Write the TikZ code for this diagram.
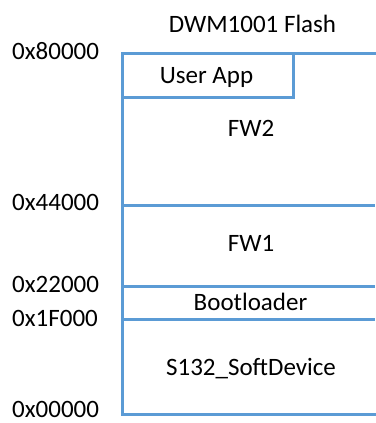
\documentclass[tikz,border=0pt]{standalone}
\usepackage{fontspec}
\setmainfont{Carlito}
\definecolor{mapblue}{HTML}{5B9BD5}
\tikzset{
  mapline/.style={draw=mapblue, line width=3pt},
  addr/.style={anchor=base west, inner sep=0pt, font=\fontsize{25}{30}\selectfont},
  region/.style={anchor=base, inner sep=0pt, font=\fontsize{25}{30}\selectfont}
}
\begin{document}
\begin{tikzpicture}[x=1pt,y=-1pt]
\useasboundingbox (0,0) rectangle (375,423);
% memory map lines
\draw[mapline, line cap=rect] (375,53.5) -- (122,53.5) -- (122,414) -- (375,414);
\draw[mapline] (122,97) -- (293,97) -- (293,53.5);
\draw[mapline] (122,205) -- (375,205);
\draw[mapline] (122,286) -- (375,286);
\draw[mapline] (122,319.5) -- (375,319.5);
% title and region labels
\node[region] (title) at (252.5,32) {DWM1001 Flash};
\node[region] (userapp) at (206.5,83) {User App};
\node[region] (fw2) at (251,136.5) {FW2};
\node[region] (fw1) at (251,251.5) {FW1};
\node[region] (boot) at (250.5,310) {Bootloader};
\node[region] (sd) at (251,375) {S132\_SoftDevice};
% addresses
\node[addr] (a80) at (12,59) {0x80000};
\node[addr] (a44) at (12,210) {0x44000};
\node[addr] (a22) at (12,292) {0x22000};
\node[addr] (a1f) at (12,326.5) {0x1F000};
\node[addr] (a00) at (12,417.5) {0x00000};
\end{tikzpicture}
\end{document}
